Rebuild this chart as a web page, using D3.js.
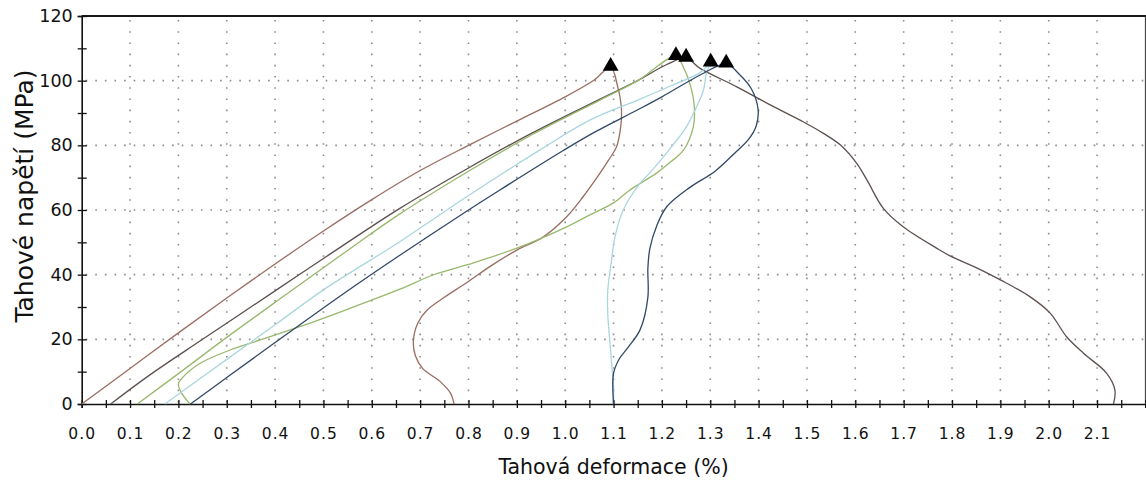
<!DOCTYPE html>
<html>
<head>
<meta charset="utf-8">
<script src="https://cdn.jsdelivr.net/npm/d3@7"></script>
<style>
  html, body { margin: 0; padding: 0; background: #fff; }
  svg { display: block; }
</style>
</head>
<body>
<script>
// Tensile test curves: stress (MPa) against strain (%) for five specimens.
const xTickLabels = [0.0, 0.1, 0.2, 0.3, 0.4, 0.5, 0.6, 0.7, 0.8, 0.9, 1.0,
                     1.1, 1.2, 1.3, 1.4, 1.5, 1.6, 1.7, 1.8, 1.9, 2.0, 2.1];
const yTickLabels = [0, 20, 40, 60, 80, 100, 120];

// Specimen 1
const s1Strain = [0, 0.1, 0.2, 0.3, 0.4, 0.5, 0.6, 0.7, 0.8, 0.9, 1.0, 1.06, 1.094,
                  1.108, 1.116, 1.115, 1.106, 1.09, 1.072, 1.037, 1.003, 0.955, 0.9,
                  0.844, 0.796, 0.75, 0.714, 0.695, 0.686, 0.69, 0.705, 0.741, 0.763, 0.77];
const s1Stress = [0, 11, 22, 32.8, 43.3, 53.5, 63.2, 72.2, 80, 87.5, 95, 100.2, 104.2,
                  98.5, 92, 86, 79.5, 75.5, 71.4, 64.1, 57.9, 51.7, 47.6,
                  42.5, 37.5, 33, 29, 25, 19.5, 15, 11, 7, 3.3, 0];

// Specimen 2
const s2Strain = [0.06, 0.141, 0.25, 0.403, 0.5, 0.658, 0.8, 0.934, 1.072, 1.15, 1.21, 1.25,
                  1.279, 1.355, 1.424, 1.492, 1.534, 1.57, 1.603, 1.624, 1.658, 1.699,
                  1.768, 1.796, 1.85, 1.9, 1.961, 2.003, 2.037, 2.072, 2.12, 2.137, 2.134];
const s2Stress = [0, 9, 20, 35.3, 45, 60.5, 73, 84, 94.3, 100, 105, 107,
                  103.8, 98.1, 92.5, 87.3, 83.7, 80, 74.4, 69.3, 60.5, 54.8,
                  48.2, 45.8, 42.2, 38.4, 33.2, 28.1, 20.8, 15.7, 9.5, 4.3, 0];

// Specimen 3
const s3Strain = [0.115, 0.2, 0.3, 0.424, 0.55, 0.658, 0.8, 0.934, 1.072, 1.15, 1.229,
                  1.245, 1.258, 1.267, 1.265, 1.245, 1.215, 1.189, 1.134, 1.1, 1.051, 1.003,
                  0.9, 0.796, 0.727, 0.658, 0.555, 0.451, 0.369, 0.307, 0.245, 0.21, 0.2,
                  0.207, 0.224];
const s3Stress = [0, 9.4, 20.6, 34, 47.5, 58.8, 72, 83.5, 94, 100, 107.5,
                  104, 99, 92, 85.8, 78.6, 74.5, 71.4, 66.2, 62.2, 58.5, 54.8,
                  48.2, 43, 39.9, 35.5, 29.6, 23.9, 19.8, 16.7, 12.6, 8.4, 6.2,
                  3.3, 0];

// Specimen 4
const s4Strain = [0.172, 0.3, 0.4, 0.5, 0.658, 0.8, 0.948, 1.051, 1.15, 1.22, 1.279, 1.301,
                  1.293, 1.286, 1.272, 1.251, 1.215, 1.175, 1.155, 1.12, 1.103, 1.095,
                  1.088, 1.088, 1.092, 1.096, 1.1, 1.1];
const s4Stress = [0, 13.8, 24.5, 35.3, 50.2, 64.5, 78.6, 87.8, 94, 98.5, 102.5, 105.5,
                  103, 97.1, 92, 85.8, 78.6, 71.5, 68.3, 60, 51.7, 43.5,
                  35, 28, 20, 12.6, 5, 0];

// Specimen 5
const s5Strain = [0.225, 0.3, 0.4, 0.548, 0.658, 0.8, 0.865, 0.996, 1.06, 1.15, 1.2, 1.286, 1.333,
                  1.36, 1.385, 1.399, 1.395, 1.38, 1.35, 1.31, 1.258, 1.21, 1.189, 1.175,
                  1.171, 1.171, 1.155, 1.13, 1.112, 1.1, 1.1];
const s5Stress = [0, 8.2, 19, 34.8, 46, 60, 66.2, 78.4, 84, 91, 95, 102.3, 105.2,
                  102, 97.5, 91, 86, 82, 77.5, 72, 67, 61, 55, 48,
                  42, 33, 23, 17.5, 14, 9.5, 0];

// Break points (ultimate strength) marked with triangles
const peakStrain = [1.094, 1.229, 1.25, 1.301, 1.333];
const peakStress = [104.2, 107.5, 107, 105.5, 105.2];

const seriesStrain = [s1Strain, s2Strain, s3Strain, s4Strain, s5Strain];
const seriesStress = [s1Stress, s2Stress, s3Stress, s4Stress, s5Stress];
const seriesColor = ["#9a6d60", "#5d514e", "#98b86c", "#a9d6df", "#304868"];

const W = 1146, H = 484;
const svg = d3.select("body").append("svg")
  .attr("width", W).attr("height", H)
  .style("background", "#fff");

const x = d3.scaleLinear().domain([0, 2.2]).range([81.7, 1145.4]);
const y = d3.scaleLinear().domain([0, 120]).range([404, 16]);

// Dotted grid
const grid = svg.append("g").attr("stroke", "#8c8c8c").attr("stroke-width", 1.6);
grid.selectAll("line.gx").data(xTickLabels.filter(v => v > 0))
  .join("line").attr("class", "gx")
  .attr("x1", d => x(d)).attr("x2", d => x(d))
  .attr("y1", y(120) + 4).attr("y2", y(0))
  .attr("stroke-dasharray", "1.6,9.6");
grid.selectAll("line.gy").data(yTickLabels.filter(v => v > 0 && v < 120))
  .join("line").attr("class", "gy")
  .attr("x1", x(0) + 4).attr("x2", x(2.2))
  .attr("y1", d => y(d)).attr("y2", d => y(d))
  .attr("stroke-dasharray", "1.6,8");

// Frame: top and right borders
svg.append("line").attr("x1", x(0)).attr("x2", W).attr("y1", y(120)).attr("y2", y(120))
  .attr("stroke", "#1a1a1a").attr("stroke-width", 2);
svg.append("line").attr("x1", x(2.2)).attr("x2", x(2.2)).attr("y1", y(120)).attr("y2", y(0))
  .attr("stroke", "#333").attr("stroke-width", 1);

// Axes with ticks crossing the axis lines
const xMinor = d3.range(0, 2.2001, 0.05).map(v => +v.toFixed(2));
const yMinor = d3.range(0, 120.001, 10);

function styleAxis(g) {
  g.select(".domain").attr("stroke", "#111").attr("stroke-width", 1.6);
  g.selectAll(".tick line").attr("stroke", "#111").attr("stroke-width", 1.3);
}

svg.append("g").attr("transform", `translate(0,${y(0)})`)
  .call(d3.axisBottom(x).tickValues(xMinor).tickSize(4).tickFormat(""))
  .call(styleAxis);
svg.append("g").attr("transform", `translate(0,${y(0)})`)
  .call(d3.axisBottom(x).tickValues(xMinor).tickSize(-4).tickFormat(""))
  .call(g => g.select(".domain").remove())
  .call(styleAxis);
const xLab = svg.append("g").attr("transform", `translate(0,${y(0)})`)
  .call(d3.axisBottom(x).tickValues(xTickLabels).tickSize(0).tickPadding(24).tickFormat(d3.format(".1f")));
xLab.select(".domain").remove();
xLab.selectAll("text").attr("font-family", "DejaVu Sans, Verdana, sans-serif")
  .attr("font-size", 15.5).attr("fill", "#111").style("letter-spacing", "1px");

svg.append("g").attr("transform", `translate(${x(0)},0)`)
  .call(d3.axisLeft(y).tickValues(yMinor).tickSize(4).tickFormat(""))
  .call(styleAxis);
svg.append("g").attr("transform", `translate(${x(0)},0)`)
  .call(d3.axisLeft(y).tickValues(yMinor).tickSize(-5).tickFormat(""))
  .call(g => g.select(".domain").remove())
  .call(styleAxis);
const yLab = svg.append("g").attr("transform", `translate(${x(0)},0)`)
  .call(d3.axisLeft(y).tickValues(yTickLabels).tickSize(0).tickPadding(9));
yLab.select(".domain").remove();
yLab.selectAll("text").attr("font-family", "DejaVu Sans, Verdana, sans-serif")
  .attr("font-size", 17.5).attr("fill", "#111");

// Axis titles
svg.append("text")
  .attr("x", (x(0) + x(2.2)) / 2).attr("y", 474)
  .attr("text-anchor", "middle")
  .attr("font-family", "DejaVu Sans, Verdana, sans-serif")
  .attr("font-size", 20.5).attr("fill", "#111")
  .text("Tahová deformace (%)");
svg.append("text")
  .attr("transform", "translate(33,196) rotate(-90)")
  .attr("text-anchor", "middle")
  .attr("font-family", "DejaVu Sans, Verdana, sans-serif")
  .attr("font-size", 25).attr("fill", "#111")
  .text("Tahové napětí (MPa)");

// Curves
const line = d3.line()
  .x(d => x(d[0])).y(d => y(d[1]))
  .curve(d3.curveCatmullRom.alpha(0.5));

const curves = svg.append("g").attr("fill", "none").attr("stroke-width", 1.3);
seriesStrain.forEach((strain, i) => {
  const pts = strain.map((s, j) => [s, seriesStress[i][j]]);
  curves.append("path").datum(pts)
    .attr("d", line)
    .attr("stroke", seriesColor[i]);
});

// Break markers
const tri = d3.symbol().type(d3.symbolTriangle).size(110);
svg.append("g").selectAll("path")
  .data(peakStrain.map((s, i) => [s, peakStress[i]]))
  .join("path")
  .attr("d", tri)
  .attr("transform", d => `translate(${x(d[0])},${y(d[1]) - 1})`)
  .attr("fill", "#000");
</script>
</body>
</html>
